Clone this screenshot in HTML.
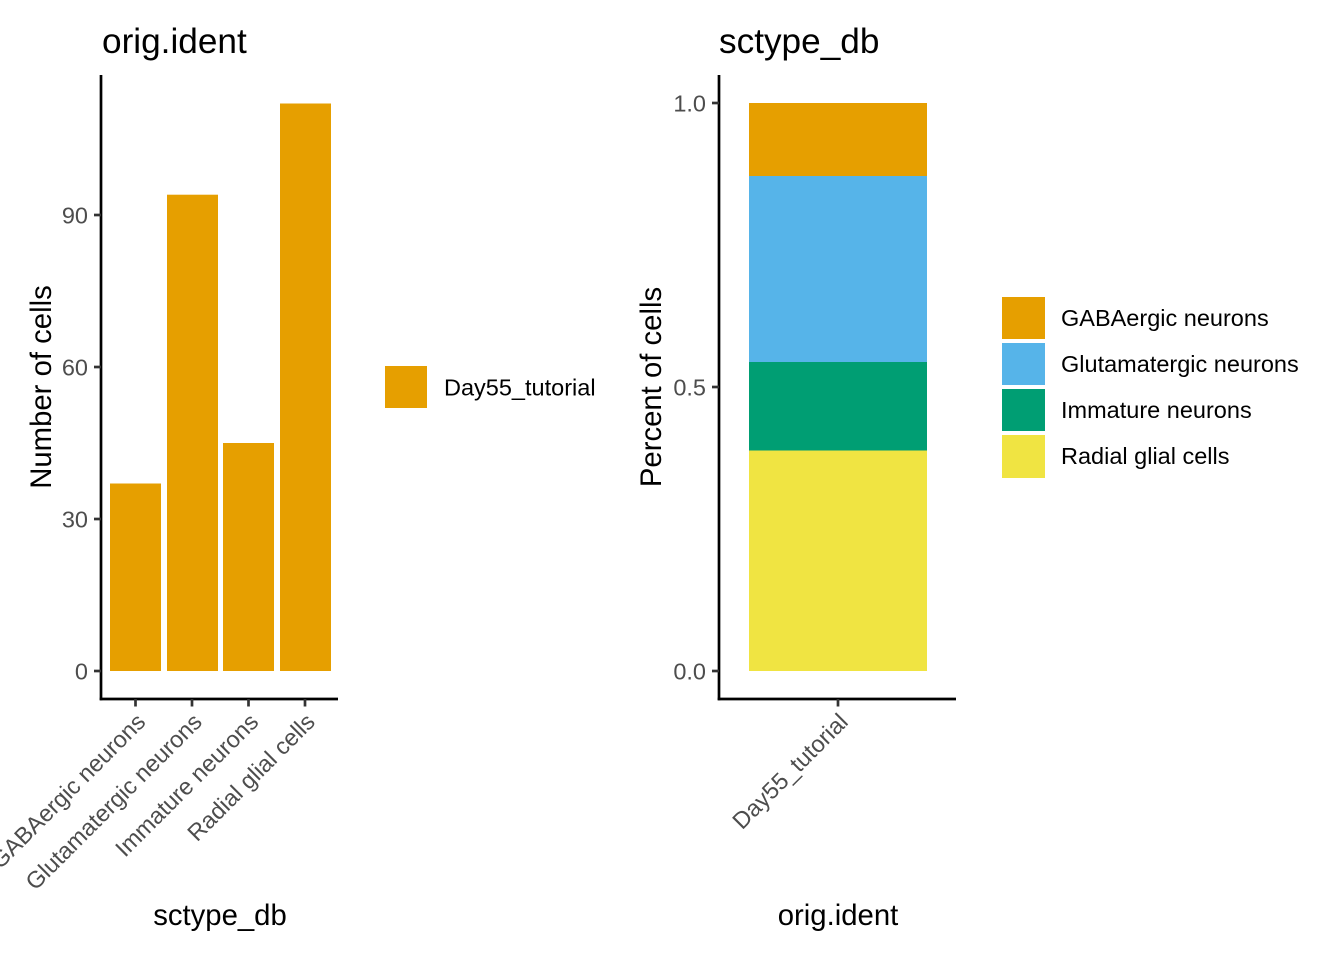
<!DOCTYPE html>
<html>
<head>
<meta charset="utf-8">
<style>
html,body{margin:0;padding:0;background:#fff;}
svg{display:block;}
text{font-family:"Liberation Sans",Arial,sans-serif;}
</style>
</head>
<body>
<svg width="1344" height="960" viewBox="0 0 1344 960" xmlns="http://www.w3.org/2000/svg">
<rect width="1344" height="960" fill="#fff"/>

<!-- ============ LEFT PANEL ============ -->
<text x="102" y="53" font-size="35.2" fill="#000">orig.ident</text>

<!-- bars -->
<rect x="110" y="483.5" width="51" height="187.5" fill="#E69F00"/>
<rect x="167" y="194.7" width="51" height="476.3" fill="#E69F00"/>
<rect x="223" y="443" width="51" height="228" fill="#E69F00"/>
<rect x="280" y="103.5" width="51" height="567.5" fill="#E69F00"/>

<!-- axes -->
<line x1="101" y1="75" x2="101" y2="700.3" stroke="#000" stroke-width="2.7"/>
<line x1="99.7" y1="699" x2="338" y2="699" stroke="#000" stroke-width="2.7"/>

<!-- y ticks -->
<g stroke="#333" stroke-width="2.7">
<line x1="94" y1="671" x2="101" y2="671"/>
<line x1="94" y1="519" x2="101" y2="519"/>
<line x1="94" y1="367" x2="101" y2="367"/>
<line x1="94" y1="215" x2="101" y2="215"/>
<line x1="135.5" y1="699" x2="135.5" y2="706.5"/>
<line x1="192" y1="699" x2="192" y2="706.5"/>
<line x1="248.5" y1="699" x2="248.5" y2="706.5"/>
<line x1="305" y1="699" x2="305" y2="706.5"/>
</g>
<g font-size="23.5" fill="#4D4D4D" text-anchor="end">
<text x="88" y="679.4">0</text>
<text x="88" y="527.4">30</text>
<text x="88" y="375.4">60</text>
<text x="88" y="223.4">90</text>
</g>
<g font-size="23.5" fill="#4D4D4D" text-anchor="end">
<text transform="translate(135.5,712) rotate(-45)" x="0" y="16">GABAergic neurons</text>
<text transform="translate(192,712) rotate(-45)" x="0" y="16">Glutamatergic neurons</text>
<text transform="translate(248.5,712) rotate(-45)" x="0" y="16">Immature neurons</text>
<text transform="translate(305,712) rotate(-45)" x="0" y="16">Radial glial cells</text>
</g>

<text x="220" y="925" font-size="29.3" fill="#000" text-anchor="middle">sctype_db</text>
<text transform="translate(51,387) rotate(-90)" font-size="29.3" fill="#000" text-anchor="middle">Number of cells</text>

<!-- left legend -->
<rect x="385" y="366" width="42" height="42" fill="#E69F00"/>
<text x="444" y="395.5" font-size="23.5" fill="#000">Day55_tutorial</text>

<!-- ============ RIGHT PANEL ============ -->
<text x="719" y="53" font-size="35.2" fill="#000">sctype_db</text>

<rect x="749" y="103" width="178" height="73" fill="#E69F00"/>
<rect x="749" y="176" width="178" height="186" fill="#56B4E9"/>
<rect x="749" y="362" width="178" height="88.5" fill="#009E73"/>
<rect x="749" y="450.5" width="178" height="220.5" fill="#F0E442"/>

<line x1="719" y1="75" x2="719" y2="700.3" stroke="#000" stroke-width="2.7"/>
<line x1="717.7" y1="699" x2="956" y2="699" stroke="#000" stroke-width="2.7"/>

<g stroke="#333" stroke-width="2.7">
<line x1="712" y1="671" x2="719" y2="671"/>
<line x1="712" y1="387" x2="719" y2="387"/>
<line x1="712" y1="103" x2="719" y2="103"/>
<line x1="838" y1="699" x2="838" y2="706.5"/>
</g>
<g font-size="23.5" fill="#4D4D4D" text-anchor="end">
<text x="706" y="679.4">0.0</text>
<text x="706" y="395.4">0.5</text>
<text x="706" y="111.4">1.0</text>
<text transform="translate(838,712) rotate(-45)" x="0" y="16">Day55_tutorial</text>
</g>

<text x="838" y="925" font-size="29.3" fill="#000" text-anchor="middle">orig.ident</text>
<text transform="translate(661,387) rotate(-90)" font-size="29.3" fill="#000" text-anchor="middle">Percent of cells</text>

<!-- right legend -->
<rect x="1002" y="297" width="43" height="42" fill="#E69F00"/>
<rect x="1002" y="343" width="43" height="42" fill="#56B4E9"/>
<rect x="1002" y="389" width="43" height="42" fill="#009E73"/>
<rect x="1002" y="435" width="43" height="43" fill="#F0E442"/>
<g font-size="23.5" fill="#000">
<text x="1061" y="326">GABAergic neurons</text>
<text x="1061" y="372">Glutamatergic neurons</text>
<text x="1061" y="418">Immature neurons</text>
<text x="1061" y="464">Radial glial cells</text>
</g>
</svg>
</body>
</html>
